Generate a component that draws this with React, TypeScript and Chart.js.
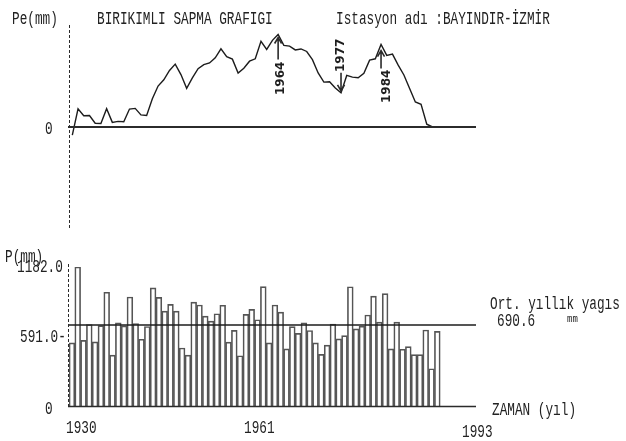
import React, { useEffect, useRef } from 'react';
import { Chart, registerables } from 'chart.js';

Chart.register(...registerables);

// Annual precipitation record, Bayındır (İzmir)
const years = [
  1930, 1931, 1932, 1933, 1934, 1935, 1936, 1937, 1938, 1939,
  1940, 1941, 1942, 1943, 1944, 1945, 1946, 1947, 1948, 1949,
  1950, 1951, 1952, 1953, 1954, 1955, 1956, 1957, 1958, 1959,
  1960, 1961, 1962, 1963, 1964, 1965, 1966, 1967, 1968, 1969,
  1970, 1971, 1972, 1973, 1974, 1975, 1976, 1977, 1978, 1979,
  1980, 1981, 1982, 1983, 1984, 1985, 1986, 1987, 1988, 1989,
  1990, 1991, 1992, 1993,
];

// Yearly total P (mm)
const rainfall = [
  539, 1182, 560, 695, 547, 685, 968, 435, 709, 683,
  928, 703, 570, 678, 1005, 925, 808, 865, 808, 496,
  435, 885, 860, 766, 723, 786, 858, 545, 645, 430,
  780, 823, 735, 1016, 539, 860, 800, 488, 677, 620,
  708, 644, 539, 442, 520, 698, 573, 601, 1015, 658,
  680, 775, 935, 715, 956, 488, 715, 485, 508, 439,
  439, 648, 320, 637,
];

// Cumulative departure from the long-term mean, Pe (mm)
const cumulativeDeviation = [
  -151.6, 339.8, 209.2, 213.6, 70.0, 64.4, 341.8, 86.2, 104.6, 97.0,
  334.4, 346.8, 226.2, 213.6, 528.0, 762.4, 879.8, 1054.2, 1171.6, 977.0,
  721.4, 915.8, 1085.2, 1160.6, 1193.0, 1288.4, 1455.8, 1310.2, 1264.6, 1004.0,
  1093.4, 1225.8, 1270.2, 1595.6, 1444.0, 1613.4, 1722.8, 1520.2, 1506.6, 1436.0,
  1453.4, 1406.8, 1255.2, 1006.6, 836.0, 843.4, 725.8, 636.2, 960.6, 928.0,
  917.4, 1001.8, 1246.2, 1270.6, 1536.0, 1333.4, 1357.8, 1152.2, 969.6, 718.0,
  466.4, 423.8, 53.2, 0,
];

const meanRainfall = 690.6;
const rainfallMax = 1182;
const rainfallTickLabels = ['1182.0', '591.0-', '0'];
const yearTickLabels = ['1930', '1961', '1993'];
const markYears = [1966, 1977, 1984];
const markLabels = ['1964', '1977', '1984'];

const INK = '#2b2b2b';

// arrow layout for the hand-marked years on the upper graph
const markStyle = [
  { dir: 'up', gap: 3, len: 22 },
  { dir: 'down', gap: 2, len: 18 },
  { dir: 'up', gap: 6, len: 18 },
];

const upperDecor = {
  id: 'upperDecor',
  afterDatasetsDraw(chart: any) {
    const { ctx, chartArea, scales } = chart;
    const x = scales.x;
    const y = scales.y;
    ctx.save();
    // zero line
    const y0 = y.getPixelForValue(0);
    ctx.strokeStyle = INK;
    ctx.lineWidth = 2;
    ctx.beginPath();
    ctx.moveTo(chartArea.left - 1, y0);
    ctx.lineTo(chartArea.right, y0);
    ctx.stroke();
    // vertical axis
    ctx.lineWidth = 1;
    ctx.setLineDash([3, 2]);
    ctx.beginPath();
    ctx.moveTo(chartArea.left + 0.5, chartArea.top);
    ctx.lineTo(chartArea.left + 0.5, chartArea.bottom);
    ctx.stroke();
    ctx.setLineDash([]);
    // arrows
    ctx.lineWidth = 1.6;
    markYears.forEach((yr, k) => {
      const i = years.indexOf(yr);
      const px = x.getPixelForValue(yr);
      const py = y.getPixelForValue(cumulativeDeviation[i]);
      const s = markStyle[k];
      const up = s.dir === 'up';
      const tip = up ? py + s.gap : py - s.gap;
      const tail = up ? tip + s.len : tip - s.len;
      const d = up ? 6 : -6;
      ctx.beginPath();
      ctx.moveTo(px, tail);
      ctx.lineTo(px, tip);
      ctx.moveTo(px - 3.5, tip + d);
      ctx.lineTo(px, tip);
      ctx.lineTo(px + 3.5, tip + d);
      ctx.stroke();
    });
    ctx.restore();
  },
};

const lowerDecor = {
  id: 'lowerDecor',
  afterDatasetsDraw(chart: any) {
    const { ctx, chartArea, scales } = chart;
    const y = scales.y;
    ctx.save();
    ctx.strokeStyle = INK;
    // base line
    const yb = y.getPixelForValue(0);
    ctx.lineWidth = 1.5;
    ctx.beginPath();
    ctx.moveTo(chartArea.left - 1, yb);
    ctx.lineTo(chartArea.right, yb);
    ctx.stroke();
    // vertical axis
    ctx.lineWidth = 1;
    ctx.setLineDash([3, 2]);
    ctx.beginPath();
    ctx.moveTo(chartArea.left - 0.5, y.getPixelForValue(rainfallMax) - 3);
    ctx.lineTo(chartArea.left - 0.5, yb);
    ctx.stroke();
    ctx.restore();
  },
};

function Txt(props: { x: number; y: number; text: string; size?: number; sx?: number }) {
  const size = props.size ?? 19;
  return (
    <div
      style={{
        position: 'absolute',
        left: props.x,
        top: props.y - 2,
        fontFamily: '"Liberation Mono", "DejaVu Sans Mono", monospace',
        fontSize: size,
        fontWeight: 400,
        lineHeight: `${size}px`,
        transform: `scaleX(${props.sx ?? 0.67})`,
        transformOrigin: 'left top',
        whiteSpace: 'pre',
        color: '#222',
      }}
    >
      {props.text}
    </div>
  );
}

function Mark(props: { x: number; bottom: number; text: string }) {
  return (
    <div
      style={{
        position: 'absolute',
        left: props.x - 6,
        top: props.bottom,
        fontFamily: '"DejaVu Sans", sans-serif',
        fontWeight: 700,
        fontSize: 12,
        lineHeight: '12px',
        transform: 'rotate(-90deg)',
        transformOrigin: 'left top',
        whiteSpace: 'nowrap',
        color: '#1e1e1e',
      }}
    >
      {props.text}
    </div>
  );
}

export default function App() {
  const upperRef = useRef<HTMLCanvasElement>(null);
  const lowerRef = useRef<HTMLCanvasElement>(null);

  useEffect(() => {
    const upper = new Chart(upperRef.current as HTMLCanvasElement, {
      type: 'line',
      data: {
        datasets: [
          {
            data: years.map((yr, i) => ({ x: yr, y: cumulativeDeviation[i] })),
            borderColor: '#1c1c1c',
            borderWidth: 1.4,
            pointRadius: 0,
            tension: 0,
            fill: false,
          },
        ],
      },
      options: {
        responsive: false,
        animation: false,
        events: [],
        layout: { padding: { left: 69, right: 150, top: 25, bottom: 212 } },
        plugins: { legend: { display: false }, tooltip: { enabled: false } },
        scales: {
          x: { type: 'linear', min: 1929.42, max: 2000.61, display: false },
          y: { type: 'linear', min: -1900, max: 1900, display: false },
        },
      },
      plugins: [upperDecor],
    });

    const lower = new Chart(lowerRef.current as HTMLCanvasElement, {
      type: 'bar',
      data: {
        datasets: [
          {
            type: 'line',
            data: [
              { x: 1929.5, y: meanRainfall },
              { x: 2000, y: meanRainfall },
            ],
            borderColor: '#1c1c1c',
            borderWidth: 1.6,
            pointRadius: 0,
            order: 1,
          } as any,
          {
            type: 'bar',
            data: years.map((yr, i) => ({ x: yr, y: rainfall[i] })),
            backgroundColor: 'rgba(255,255,255,0)',
            borderColor: '#555',
            borderWidth: 1,
            barPercentage: 1,
            categoryPercentage: 1,
            order: 2,
          } as any,
        ],
      },
      options: {
        responsive: false,
        animation: false,
        events: [],
        layout: { padding: { left: 69, right: 150, top: 267, bottom: 34.5 } },
        plugins: { legend: { display: false }, tooltip: { enabled: false } },
        scales: {
          x: { type: 'linear', min: 1929.5, max: 1999.67, offset: false, display: false },
          y: { type: 'linear', min: 0, max: rainfallMax, display: false },
        },
      },
      plugins: [lowerDecor],
    });

    return () => {
      upper.destroy();
      lower.destroy();
    };
  }, []);

  const canvasStyle: React.CSSProperties = {
    position: 'absolute',
    left: 0,
    top: 0,
    width: 626,
    height: 441,
  };

  return (
    <div style={{ position: 'absolute', left: 0, top: 0, width: 626, height: 441, background: '#fff', overflow: 'hidden' }}>
      <canvas ref={upperRef} width={626} height={441} style={canvasStyle} />
      <canvas ref={lowerRef} width={626} height={441} style={canvasStyle} />

      <Txt x={12} y={12} text="Pe(mm)" />
      <Txt x={97} y={12} text="BIRIKIMLI SAPMA GRAFIGI" />
      <Txt x={336} y={12} text="Istasyon adı :BAYINDIR-İZMİR" />
      <Txt x={45} y={122} text="0" />

      <Txt x={5} y={250} text="P(mm)" />
      <Txt x={17} y={260} text={rainfallTickLabels[0]} />
      <Txt x={20} y={330} text={rainfallTickLabels[1]} />
      <Txt x={45} y={402} text={rainfallTickLabels[2]} />

      <Txt x={490} y={297} text="Ort. yıllık yagıs" />
      <Txt x={497} y={314} text={meanRainfall.toFixed(1)} />
      <Txt x={567} y={317} text="mm" size={10} sx={0.9} />
      <Txt x={492} y={403} text="ZAMAN (yıl)" />

      <Txt x={66} y={421} text={yearTickLabels[0]} />
      <Txt x={244} y={421} text={yearTickLabels[1]} />
      <Txt x={462} y={425} text={yearTickLabels[2]} />

      <Mark x={280} bottom={95} text={markLabels[0]} />
      <Mark x={340} bottom={72} text={markLabels[1]} />
      <Mark x={386} bottom={103} text={markLabels[2]} />
    </div>
  );
}
